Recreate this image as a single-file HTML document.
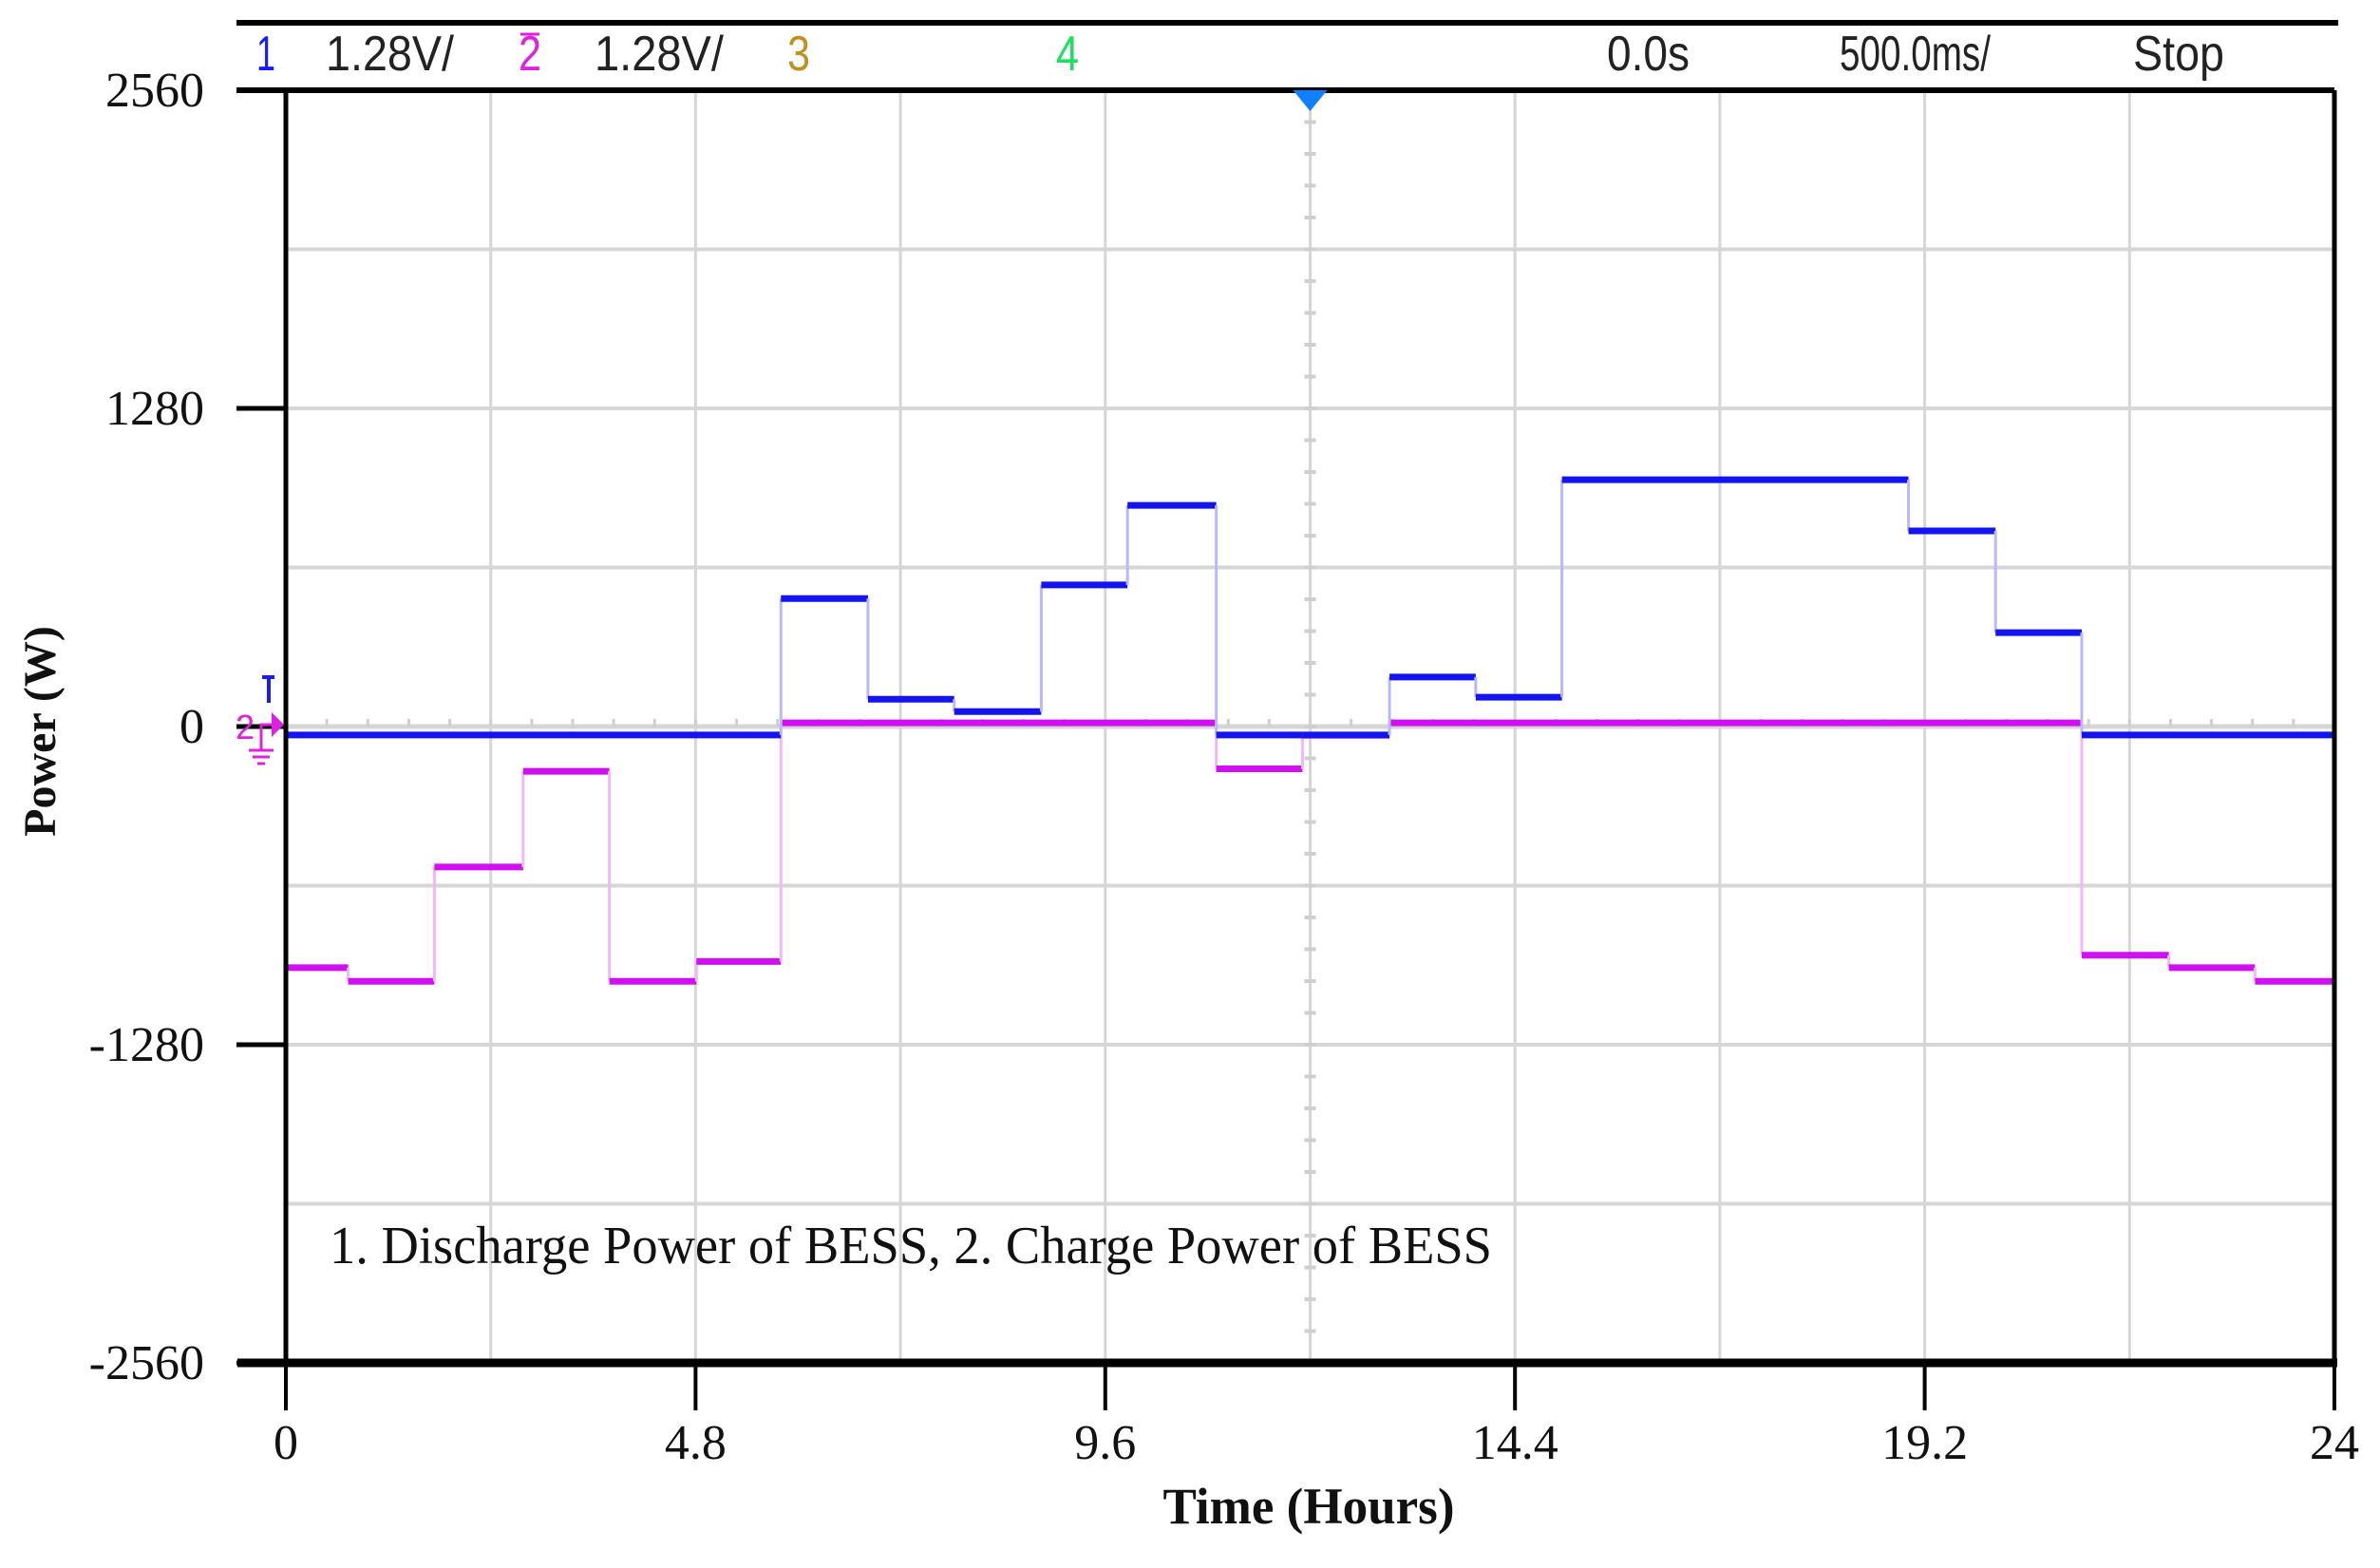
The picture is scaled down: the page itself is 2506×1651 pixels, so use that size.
<!DOCTYPE html>
<html><head><meta charset="utf-8"><style>
html,body{margin:0;padding:0;background:#fff;}
svg{display:block;}
.tk{font-family:"Liberation Serif",serif;font-size:52px;fill:#111;}
.hd{font-family:"Liberation Sans",sans-serif;font-size:52px;fill:#222;}
</style></head><body>
<svg id="chart" width="2506" height="1651" viewBox="0 0 2506 1651" xmlns="http://www.w3.org/2000/svg">
<g id="header">
<line x1="249" y1="24" x2="2462" y2="24" stroke="#000" stroke-width="6"/>
<text class="hd" x="270" y="74" style="fill:#1a1aff" textLength="20" lengthAdjust="spacingAndGlyphs">1</text>
<text class="hd" x="343" y="74" textLength="135" lengthAdjust="spacingAndGlyphs">1.28V/</text>
<text class="hd" x="546" y="74" style="fill:#e020e0" textLength="24" lengthAdjust="spacingAndGlyphs">2</text>
<line x1="548" y1="36" x2="568" y2="36" stroke="#e020e0" stroke-width="3"/>
<text class="hd" x="626" y="74" textLength="136" lengthAdjust="spacingAndGlyphs">1.28V/</text>
<text class="hd" x="829" y="74" style="fill:#c09020" textLength="24" lengthAdjust="spacingAndGlyphs">3</text>
<text class="hd" x="1112" y="74" style="fill:#20e060" textLength="24" lengthAdjust="spacingAndGlyphs">4</text>
<text class="hd" x="1692" y="74" textLength="87" lengthAdjust="spacingAndGlyphs">0.0s</text>
<text class="hd" x="1937" y="74" textLength="159" lengthAdjust="spacingAndGlyphs">500.0ms/</text>
<text class="hd" x="2246" y="74" textLength="96" lengthAdjust="spacingAndGlyphs">Stop</text>
</g>
<g id="grid"></g>
<g id="series"></g>
<g id="axes"></g>
<text class="tk" x="347" y="1330" style="font-size:56px" textLength="1224" lengthAdjust="spacingAndGlyphs">1. Discharge Power of BESS,   2. Charge Power of BESS</text>
<text class="tk" transform="translate(58,770) rotate(-90)" text-anchor="middle" style="font-weight:bold;font-size:48px">Power (W)</text>
<text class="tk" x="1378" y="1604" text-anchor="middle" style="font-weight:bold;font-size:54px" textLength="307" lengthAdjust="spacingAndGlyphs">Time (Hours)</text>
</svg>
<script>
const xTicks = [0, 4.8, 9.6, 14.4, 19.2, 24];
const xTickLabels = ["0", "4.8", "9.6", "14.4", "19.2", "24"];
const yTicks = [2560, 1280, 0, -1280, -2560];
const yTickLabels = ["2560", "1280", "0", "-1280", "-2560"];
const dischargeTimes = [0, 5.80, 6.82, 7.83, 8.85, 9.86, 10.90, 11.91, 12.93, 13.94, 14.95, 19.01, 20.03, 21.04];
const dischargeValues = [-34, 515, 110, 60, 570, 890, -34, -34, 199, 118, 993, 787, 378, -34];
const chargeTimes = [0, 0.73, 1.74, 2.78, 3.79, 4.81, 5.80, 10.90, 11.91, 12.93, 21.04, 22.06, 23.07];
const chargeValues = [-970, -1025, -565, -180, -1025, -945, 15, -170, -35, 15, -920, -970, -1025];

const L=301, R=2458, T=95, B=1435;
const X = t => L + (t/24)*(R-L);
const Y = v => T + (2560 - v)/5120*(B-T);
const NS="http://www.w3.org/2000/svg";
function mk(tag, attrs, parent){const e=document.createElementNS(NS,tag);for(const k in attrs)e.setAttribute(k,attrs[k]);parent.appendChild(e);return e;}
const grid=document.getElementById('grid'), axes=document.getElementById('axes'), series=document.getElementById('series');

for(let i=1;i<10;i++){const x=L+i*(R-L)/10;
  const g=mk('line',{x1:x,y1:T,x2:x,y2:B,stroke:'#d6d6d6','stroke-width':3},grid);
  
  }
for(let i=1;i<8;i++){const y=T+i*(B-T)/8;
  const g=mk('line',{x1:L,y1:y,x2:R,y2:y,stroke:'#d6d6d6','stroke-width':i==4?5:4},grid);
  
  }
const cx=(L+R)/2, cy=(T+B)/2;
for(let i=1;i<40;i++){const y=T+i*(B-T)/40;
  const m=mk('line',{x1:cx-6,y1:y,x2:cx+6,y2:y,stroke:'#cfcfcf','stroke-width':4},grid);
  
  }
for(let i=1;i<50;i++){const x=L+i*(R-L)/50;
  const m=mk('line',{x1:x,y1:cy-8,x2:x,y2:cy,stroke:'#cfcfcf','stroke-width':3},grid);
  
  }

function drawSeries(times, values, thick, thin, name){
  for(let i=0;i<times.length;i++){
    const x1=X(times[i]), x2=X(i+1<times.length?times[i+1]:24), y=Y(values[i]);
    if(i>0){const v=mk('line',{x1:x1,y1:Y(values[i-1]),x2:x1,y2:y,stroke:thin,'stroke-width':3},series);
      
      }
    const h=mk('line',{x1:x1,y1:y,x2:x2,y2:y,stroke:thick,'stroke-width':7},series);
    
    
  }
}
drawSeries(chargeTimes, chargeValues, '#d010f0', '#f0b8f8', 'charge-power');
drawSeries(dischargeTimes, dischargeValues, '#1414f0', '#b8b8ff', 'discharge-power');

let a=mk('line',{x1:L,y1:T,x2:R,y2:T,stroke:'#000','stroke-width':6},axes);

a=mk('line',{x1:249,y1:T,x2:L,y2:T,stroke:'#000','stroke-width':6},axes);

a=mk('line',{x1:L,y1:T,x2:L,y2:B,stroke:'#000','stroke-width':5},axes);

a=mk('line',{x1:R,y1:T,x2:R,y2:B,stroke:'#000','stroke-width':5},axes);

a=mk('line',{x1:250,y1:B,x2:R+3,y2:B,stroke:'#000','stroke-width':9},axes);


yTicks.forEach((v,i)=>{const y=Y(v);
  const t=mk('line',{x1:249,y1:y,x2:L,y2:y,stroke:'#000','stroke-width':5},axes);
  
  
  const tx=mk('text',{x:215,y:y+17,'text-anchor':'end',class:'tk'},axes);
  tx.textContent=yTickLabels[i];
  
  });
xTicks.forEach((v,i)=>{const x=X(v);
  const t=mk('line',{x1:x,y1:B,x2:x,y2:1485,stroke:'#000','stroke-width':4},axes);
  
  
  const tx=mk('text',{x:x,y:1536,'text-anchor':'middle',class:'tk'},axes);
  tx.textContent=xTickLabels[i];
  
  });

const tri=mk('polygon',{points:`${cx-18},${T} ${cx+18},${T} ${cx},${T+22}`,fill:'#1080ff'},axes);


const gm=mk('g',{},axes);


mk('path',{d:`M276,713 L289,713 M283,713 L283,740`,stroke:'#1a1aff','stroke-width':4,fill:'none'},gm);
mk('path',{d:`M286,750 L299,763 L286,776 Z`,fill:'#e020e0'},gm);
mk('path',{d:`M286,763 L275,763 L275,790 M262,790 L288,790 M266,797 L284,797 M271,804 L279,804`,stroke:'#e020e0','stroke-width':3,fill:'none'},gm);
const gt=mk('text',{x:248,y:778,class:'hd',style:'fill:#e020e0;font-size:36px'},gm);
gt.textContent='2';
</script>
</body></html>
